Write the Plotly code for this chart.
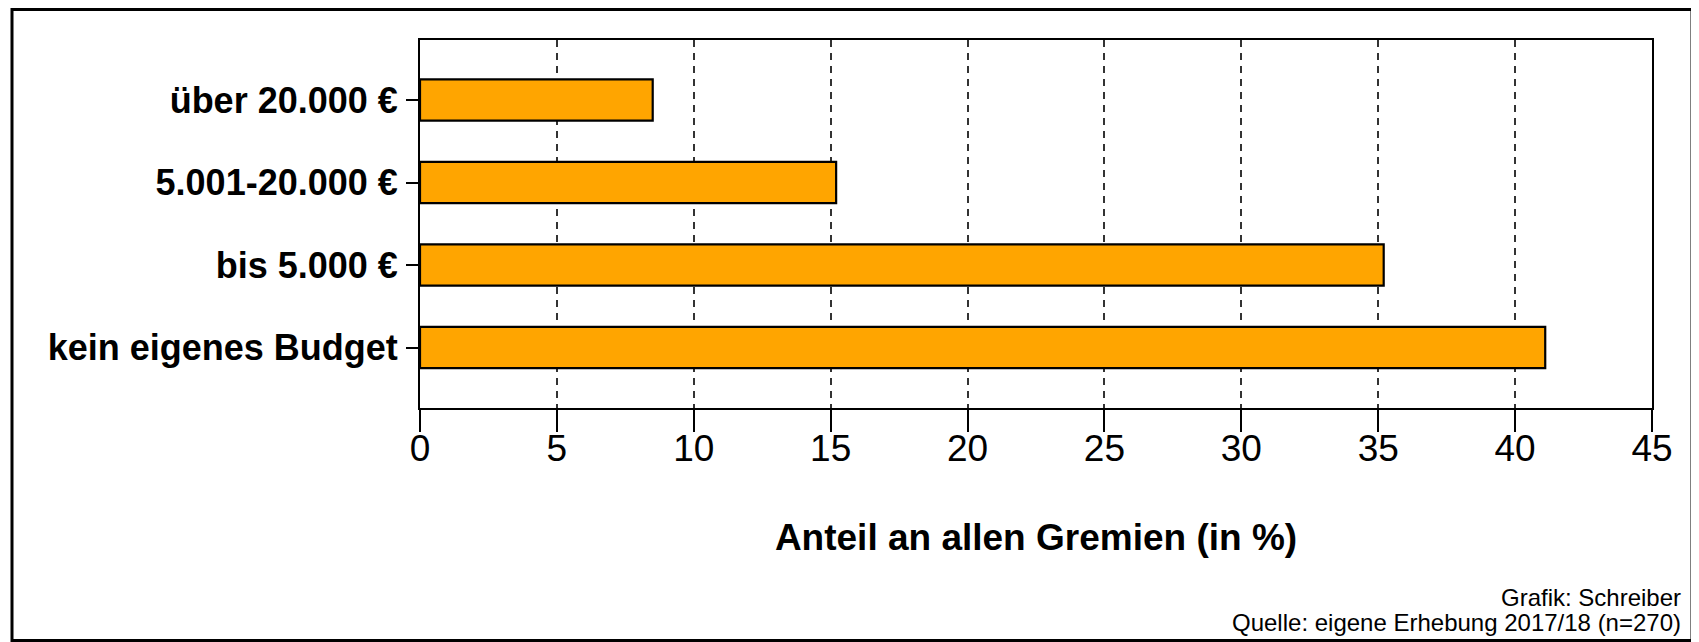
import plotly.graph_objects as go

# ---- data ----
categories = ["kein eigenes Budget", "bis 5.000 €", "5.001-20.000 €", "über 20.000 €"]
shares = [41.1, 35.2, 15.2, 8.5]
x_ticks = [0, 5, 10, 15, 20, 25, 30, 35, 40, 45]
x_title = "Anteil an allen Gremien (in %)"
credit_lines = ["Grafik: Schreiber", "Quelle: eigene Erhebung 2017/18 (n=270)"]

# ---- layout constants (page pixels; the HTML body has an 8px default margin) ----
OFF = 8
W, H = 1699 - OFF, 642 - OFF
L, R, T, B = 420 - OFF, 1652 - OFF, 40 - OFF, 408 - OFF
pw, ph = R - L, B - T

def px_x(x):
    return (x - OFF - L) / pw

def px_y(y):
    return (B - (y - OFF)) / ph

SANS = "Liberation Sans, Arial, sans-serif"

fig = go.Figure()
fig.add_trace(go.Bar(
    x=shares,
    y=categories,
    orientation="h",
    width=0.5,
    marker=dict(color="#FFA500", line=dict(color="black", width=2.2)),
    showlegend=False,
))

fig.update_layout(
    width=W, height=H,
    margin=dict(l=L, r=W - R, t=T, b=H - B, pad=0),
    paper_bgcolor="white",
    plot_bgcolor="white",
    xaxis=dict(
        range=[0, 45],
        tickvals=x_ticks,
        ticktext=[str(v) for v in x_ticks],
        ticks="outside", ticklen=22, tickwidth=2, tickcolor="black",
        showline=True, linecolor="black", linewidth=2, mirror=True,
        showgrid=True, gridcolor="#333333", gridwidth=1.5, griddash="7px,6px",
        zeroline=False,
        tickfont=dict(family=SANS, size=37, color="black"),
        ticklabelstandoff=-15,
        title=dict(text="<b>" + x_title + "</b>",
                   font=dict(family=SANS, size=37, color="black"),
                   standoff=56),
    ),
    yaxis=dict(
        type="category",
        categoryorder="array",
        categoryarray=categories,
        range=[-0.733, 3.727],
        ticks="outside", ticklen=12, tickwidth=2, tickcolor="black",
        showline=True, linecolor="black", linewidth=2, mirror=True,
        showgrid=False, zeroline=False,
        tickfont=dict(family=SANS, size=36, color="black", weight="bold"),
        ticklabelstandoff=1,
    ),
    shapes=[dict(
        type="rect", xref="paper", yref="paper",
        x0=px_x(12), x1=px_x(1692), y0=px_y(640.5), y1=px_y(9.5),
        line=dict(color="black", width=3), fillcolor="rgba(0,0,0,0)",
        layer="below",
    )],
    annotations=[
        dict(text=credit_lines[0], xref="paper", yref="paper",
             x=px_x(1683), y=px_y(597), xanchor="right", yanchor="middle",
             showarrow=False, font=dict(family=SANS, size=24, color="black")),
        dict(text=credit_lines[1], xref="paper", yref="paper",
             x=px_x(1683), y=px_y(622), xanchor="right", yanchor="middle",
             showarrow=False, font=dict(family=SANS, size=24, color="black")),
    ],
)

fig.write_html("out.html")
